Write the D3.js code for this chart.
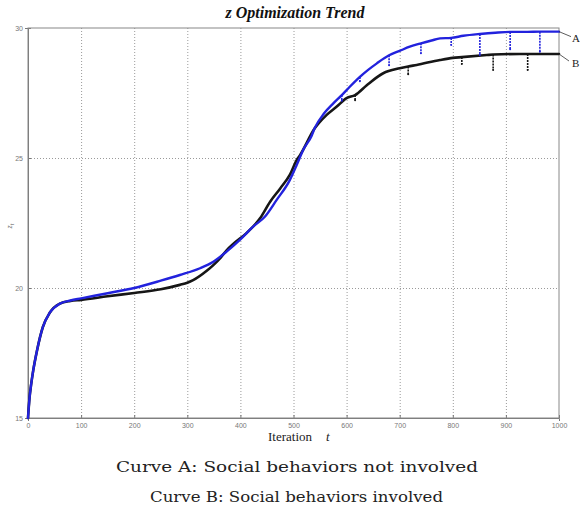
<!DOCTYPE html>
<html><head><meta charset="utf-8">
<script src="https://cdn.jsdelivr.net/npm/d3@7"></script>
<style>body{margin:0;background:#fff;} svg{display:block;}</style>
</head><body>
<script>
// ---- data ----
const xTicks = [0,100,200,300,400,500,600,700,800,900,1000];
const yTicks = [15,20,25,30];
const titleText = "z Optimization Trend";
const xLabelText = "Iteration";
const captionA = "Curve A: Social behaviors not involved";
const captionB = "Curve B: Social behaviors involved";

// Curve A (blue) - social behaviors not involved
const iterA = [0,3,6,10,17,28,41,60,80,100,150,200,250,286,324,349,374,399,424,446,468,493,506,518,534,540,557,575,
  591,606,625,640,657,680,700,719,740,760,776,797,820,851,880,908,940,964,1000];
const valA = [15.0,15.8,16.3,16.85,17.6,18.5,19.05,19.4,19.52,19.6,19.8,20.0,20.28,20.5,20.76,21.01,21.4,21.85,22.36,22.74,23.38,24.15,24.73,25.3,25.85,26.15,26.7,27.1,
  27.42,27.74,28.12,28.38,28.64,28.95,29.12,29.28,29.41,29.52,29.6,29.62,29.7,29.77,29.82,29.85,29.85,29.86,29.86];
// dips of curve A (iteration, lowest value)
const dipIterA = [591,625,680,740,797,851,908,964];
const dipValA = [27.2,27.95,28.57,29.03,29.35,28.96,29.18,29.09];

// Curve B (black) - social behaviors involved
const iterB = [0,3,6,10,17,28,41,60,80,100,150,200,250,286,300,311,336,350,362,374,387,412,437,456,475,493,506,512,540,562,581,600,
  616,638,669,700,716,732,776,800,817,864,876,926,941,1000];
const valB = [15.0,15.8,16.3,16.85,17.6,18.5,19.05,19.4,19.5,19.54,19.68,19.81,19.95,20.12,20.2,20.3,20.65,20.9,21.15,21.45,21.7,22.12,22.68,23.32,23.83,24.35,24.92,25.1,26.14,26.65,26.97,27.3,
  27.42,27.8,28.26,28.45,28.52,28.58,28.77,28.85,28.88,28.96,28.98,29.0,29.0,29.0];
// dips of curve B (iteration, lowest value)
const dipIterB = [616,716,817,876,941];
const dipValB = [27.22,28.22,28.62,28.38,28.38];

// ---- chart ----
const W = 580, H = 513;
const svg = d3.select("body").append("svg").attr("width", W).attr("height", H);
const x = d3.scaleLinear().domain([0,1000]).range([28,559]);
const y = d3.scaleLinear().domain([15,30]).range([418,28]);

// grid
const grid = svg.append("g").attr("stroke","#9a9a9a").attr("stroke-width",1).attr("stroke-dasharray","1,2");
grid.selectAll("line.gx").data(xTicks.slice(1,-1)).join("line")
  .attr("x1",d=>x(d)+0.5).attr("x2",d=>x(d)+0.5).attr("y1",y(30)).attr("y2",y(15));
grid.selectAll("line.gy").data(yTicks.slice(1,-1)).join("line")
  .attr("y1",d=>y(d)+0.5).attr("y2",d=>y(d)+0.5).attr("x1",x(0)).attr("x2",x(1000));

// axes
const xAxis = d3.axisBottom(x).tickValues(xTicks).tickSize(3).tickPadding(2).tickFormat(d3.format("d"));
const gx = svg.append("g").attr("transform",`translate(0,${y(15)})`).call(xAxis);
const yAxis = d3.axisLeft(y).tickValues(yTicks).tickSize(3).tickPadding(2);
const gy = svg.append("g").attr("transform",`translate(${x(0)},0)`).call(yAxis);
[gx,gy].forEach(g=>{
  g.select(".domain").attr("stroke","#777");
  g.selectAll(".tick line").attr("stroke","#777");
  g.selectAll(".tick text").attr("fill","#777").attr("font-family","Liberation Sans, Arial, sans-serif").attr("font-size",7);
});
gy.selectAll(".tick line").attr("x2",3);
gx.selectAll(".tick line").attr("y2",-3);
// box
svg.append("rect").attr("x",x(0)).attr("y",y(30)).attr("width",x(1000)-x(0)).attr("height",y(15)-y(30))
  .attr("fill","none").attr("stroke","#888").attr("stroke-width",1);

// curves
const line = d3.line().x(d=>x(d[0])).y(d=>y(d[1])).curve(d3.curveMonotoneX);
const dataB = iterB.map((t,i)=>[t,valB[i]]);
const dataA = iterA.map((t,i)=>[t,valA[i]]);
const baseAt = (iters, vals, t) => d3.scaleLinear().domain(iters).range(vals)(t);

function drawCurve(data, color, width, dIters, dVals, iters, vals) {
  svg.append("path").datum(data).attr("d",line).attr("fill","none").attr("stroke",color)
    .attr("stroke-width",width).attr("stroke-linejoin","round").attr("stroke-linecap","round");
  const g = svg.append("g").attr("stroke",color);
  g.selectAll("line").data(dIters).join("line")
    .attr("x1",d=>x(d)).attr("x2",d=>x(d))
    .attr("y1",d=>y(baseAt(iters,vals,d)))
    .attr("y2",(d,i)=>y(dVals[i]))
    .attr("stroke-width",1.6).attr("stroke-dasharray","2,1");
  g.selectAll("circle").data(dIters).join("circle")
    .attr("cx",d=>x(d)).attr("cy",(d,i)=>y(dVals[i])).attr("r",1).attr("fill",color).attr("stroke","none");
}
drawCurve(dataB, "#161616", 2.6, dipIterB, dipValB, iterB, valB);
drawCurve(dataA, "#2222dd", 2.4, dipIterA, dipValA, iterA, valA);

// curve annotations
const lastA = dataA[dataA.length-1], lastB = dataB[dataB.length-1];
svg.append("line").attr("x1",x(lastA[0])).attr("y1",y(lastA[1])).attr("x2",x(lastA[0])+12).attr("y2",y(lastA[1])+5)
  .attr("stroke","#333").attr("stroke-width",0.8);
svg.append("line").attr("x1",x(lastB[0])).attr("y1",y(lastB[1])).attr("x2",x(lastB[0])+10).attr("y2",y(lastB[1])+7)
  .attr("stroke","#333").attr("stroke-width",0.8);
svg.append("text").attr("x",x(lastA[0])+13).attr("y",y(lastA[1])+10).text("A")
  .attr("font-family","Liberation Serif, Times New Roman, serif").attr("font-size",11).attr("fill","#222");
svg.append("text").attr("x",x(lastB[0])+13).attr("y",y(lastB[1])+13).text("B")
  .attr("font-family","Liberation Serif, Times New Roman, serif").attr("font-size",11).attr("fill","#222");

// title
svg.append("text").attr("x",295).attr("y",18).attr("text-anchor","middle")
  .attr("font-family","Liberation Serif, Times New Roman, serif").attr("font-weight","bold").attr("font-style","italic")
  .attr("font-size",16).attr("fill","#111").text(titleText);

// x label
const xl = svg.append("text").attr("x",268).attr("y",441)
  .attr("font-family","Liberation Serif, Times New Roman, serif").attr("font-size",13).attr("fill","#222");
xl.append("tspan").text(xLabelText);
xl.append("tspan").attr("dx",14).attr("font-style","italic").text("t");

// y label
const yl = svg.append("text").attr("transform","translate(12,226) rotate(-90)").attr("text-anchor","middle")
  .attr("font-family","Liberation Serif, Times New Roman, serif").attr("font-size",8).attr("fill","#666");
yl.append("tspan").attr("font-style","italic").text("z");
yl.append("tspan").attr("font-style","italic").attr("font-size",6).attr("dy",2).text("t");

// captions
svg.append("text").attr("x",297).attr("y",472).attr("text-anchor","middle")
  .attr("font-family","DejaVu Serif, serif").attr("font-size",14).attr("fill","#222")
  .attr("textLength",362).attr("lengthAdjust","spacingAndGlyphs").text(captionA);
svg.append("text").attr("x",296.5).attr("y",502).attr("text-anchor","middle")
  .attr("font-family","DejaVu Serif, serif").attr("font-size",14).attr("fill","#222")
  .attr("textLength",293).attr("lengthAdjust","spacingAndGlyphs").text(captionB);
</script>
</body></html>
